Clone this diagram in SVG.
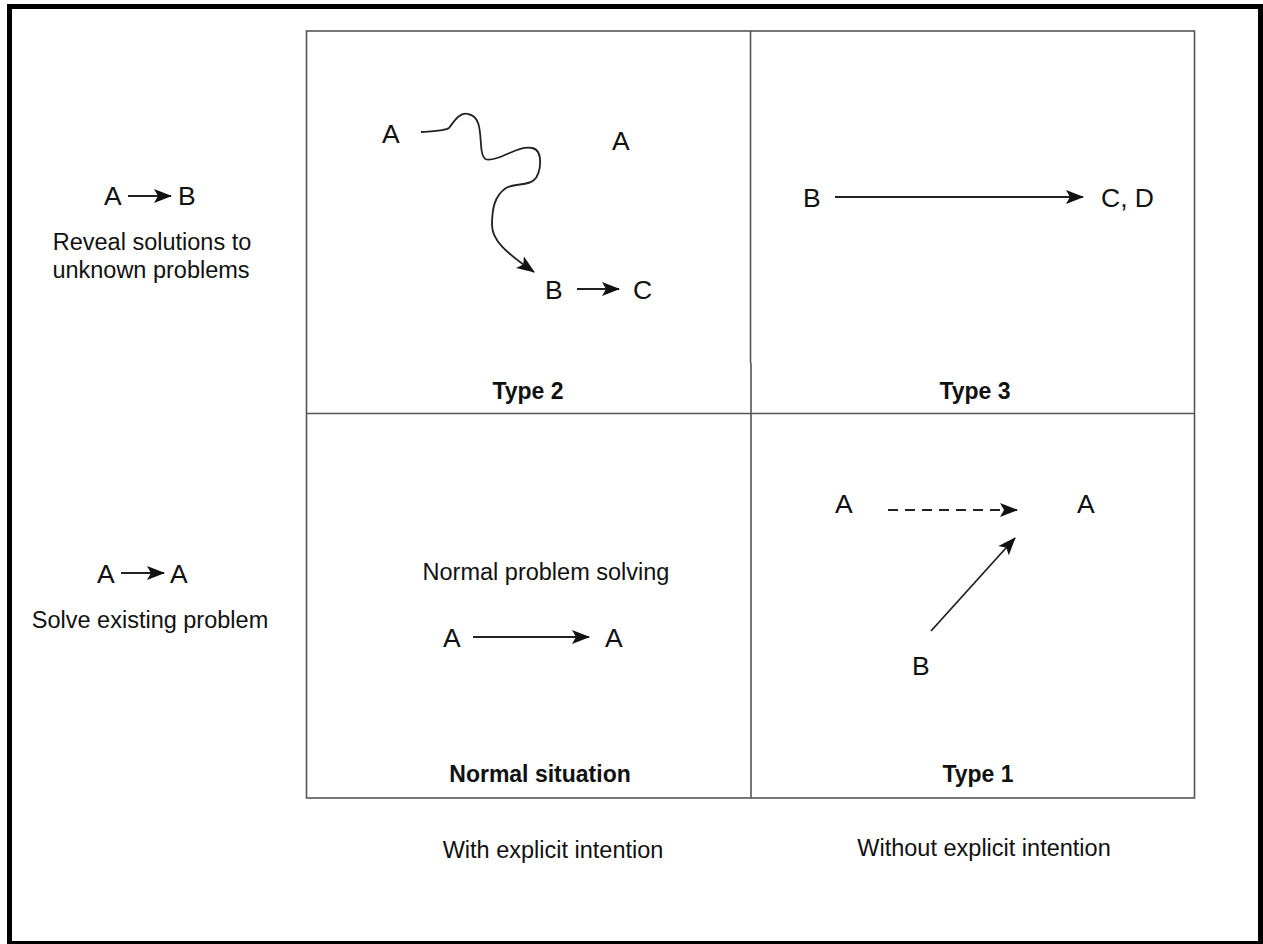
<svg xmlns="http://www.w3.org/2000/svg" width="1263" height="944" viewBox="0 0 1263 944">
<style>
.t{font-family:"Liberation Sans",Arial,sans-serif;fill:#111;}
.l{font-size:26.5px;}
.s{font-size:23.5px;}
.b{font-size:23px;font-weight:bold;}
.c{text-anchor:middle;}
.ln{stroke:#222;stroke-width:1.8;fill:none;}
.grid{stroke:#555;stroke-width:1.6;fill:none;}
</style>
<defs>
<marker id="ah" markerUnits="userSpaceOnUse" markerWidth="20" markerHeight="16" refX="17" refY="7" orient="auto" viewBox="0 0 20 14">
<path d="M0,0 L18,7 L0,14 L4,7 Z" fill="#111"/>
</marker>
</defs>
<rect width="1263" height="944" fill="#fff"/>
<rect x="9.5" y="6.5" width="1251" height="937" fill="none" stroke="#000" stroke-width="5"/>
<g id="grid">
<rect class="grid" x="306.5" y="31" width="888" height="767"/>
<line class="grid" x1="750.5" y1="31" x2="750.5" y2="363"/>
<line class="grid" x1="751" y1="363" x2="751" y2="798"/>
<line class="grid" x1="306.5" y1="413.5" x2="1194.5" y2="413.5"/>
</g>
<g id="row-labels">
<g id="reveal">
<text class="t l" x="104" y="205">A</text>
<text class="t l" x="178" y="205">B</text>
<text class="t s c" x="152" y="250">Reveal solutions to</text>
<text class="t s c" x="151" y="278">unknown problems</text>
</g>
<g id="solve">
<text class="t l" x="97" y="583">A</text>
<text class="t l" x="170" y="583">A</text>
<text class="t s c" x="150" y="628">Solve existing problem</text>
</g>
</g>
<g id="type2">
<text class="t l" x="382" y="143">A</text>
<text class="t l" x="612" y="150">A</text>
<text class="t l" x="545" y="299">B</text>
<text class="t l" x="633" y="299">C</text>
<text class="t b c" x="528" y="399">Type 2</text>
</g>
<g id="type3">
<text class="t l" x="803" y="207">B</text>
<text class="t l" x="1101" y="207">C, D</text>
<text class="t b c" x="975" y="399">Type 3</text>
</g>
<g id="normal">
<text class="t s c" x="546" y="580">Normal problem solving</text>
<text class="t l" x="443" y="647">A</text>
<text class="t l" x="605" y="647">A</text>
<text class="t b c" x="540" y="782">Normal situation</text>
</g>
<g id="type1">
<text class="t l" x="835" y="513">A</text>
<text class="t l" x="1077" y="513">A</text>
<text class="t l" x="912" y="675">B</text>
<text class="t b c" x="978" y="782">Type 1</text>
</g>
<g id="col-labels">
<text class="t s c" x="553" y="858">With explicit intention</text>
<text class="t s c" x="984" y="856">Without explicit intention</text>
</g>
<g id="connectors">
<line class="ln" x1="128" y1="196" x2="171" y2="196" marker-end="url(#ah)"/>
<line class="ln" x1="121" y1="573" x2="164" y2="573" marker-end="url(#ah)"/>
<path class="ln" d="M421,132 C435,131 445,131 449,128 C455,120 460,112 468,114 C480,116 480,130 481,145 C482,160 485,162 497,158 C510,154 520,146 532,148 C544,150 541,175 534,180 C528,186 515,183 506,188 C494,196 492,210 492,225 C492,240 505,252 534,272" marker-end="url(#ah)"/>
<line class="ln" x1="577" y1="289" x2="619" y2="289" marker-end="url(#ah)"/>
<line class="ln" x1="835" y1="197" x2="1083" y2="197" marker-end="url(#ah)"/>
<line class="ln" x1="473" y1="637" x2="589" y2="637" marker-end="url(#ah)"/>
<line class="ln" x1="888" y1="510" x2="1017" y2="510" stroke-dasharray="10,7" marker-end="url(#ah)"/>
<line class="ln" x1="931" y1="631" x2="1015" y2="538" marker-end="url(#ah)"/>
</g>
</svg>
